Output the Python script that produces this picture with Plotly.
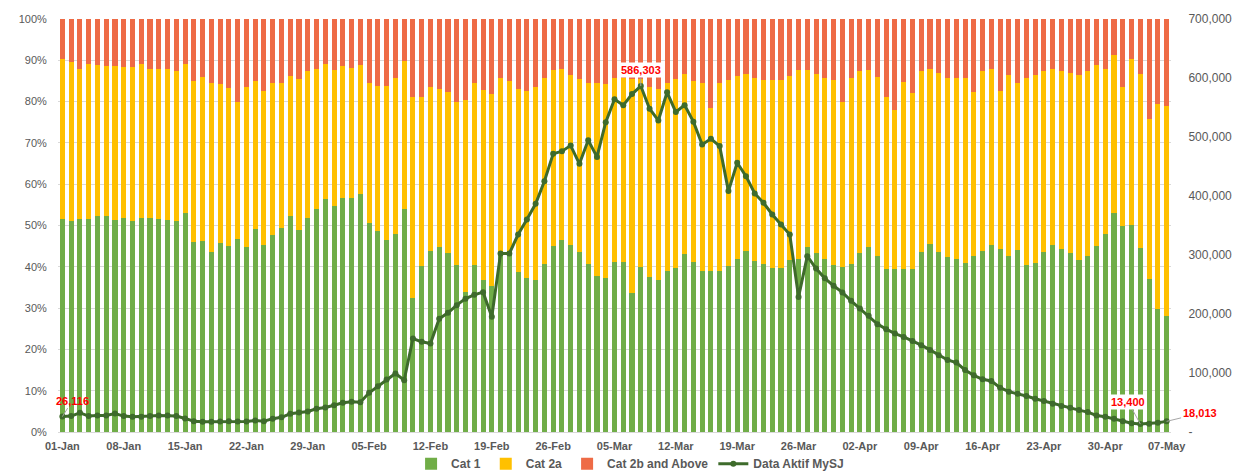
import pandas as pd
import plotly.graph_objects as go

# ---- categories (one per day, 01-Jan .. 07-May) ----
dates = pd.date_range("2022-01-01", "2022-05-07", freq="D")
days = [d.strftime("%d-%b") for d in dates]
tick_days = days[::7]

# ---- Cat 1 share (%), cumulative Cat 1 + Cat 2a share (%) ----
cat1_pct = [
    51.6, 51.0, 51.5, 51.6, 52.4, 52.2, 51.4, 51.8, 51.0, 51.8,
    51.8, 51.6, 51.4, 51.0, 53.1, 45.9, 46.3, 43.7, 45.8, 45.0,
    46.7, 44.8, 49.2, 45.4, 47.8, 49.3, 52.3, 48.9, 51.9, 54.0,
    56.3, 54.7, 56.7, 56.7, 57.6, 50.7, 48.6, 46.5, 48.0, 54.0,
    32.4, 40.2,
    43.9, 44.7, 43.3, 40.4, 34.0, 40.4, 36.8, 35.4, 43.3, 43.3,
    38.7, 37.2, 36.7, 40.7, 45.1, 46.5, 45.4, 43.6, 40.6, 37.8,
    37.4, 41.2, 41.2, 33.6, 39.9, 37.6, 36.7, 39.0, 39.6, 43.0,
    41.1, 38.9, 39.0, 39.0, 40.3, 41.9, 43.9, 41.5, 40.6, 39.8,
    39.6, 41.6, 41.8, 44.7,
    43.3, 41.9, 40.4, 40.0, 40.7, 43.3, 44.7, 42.7, 39.4, 39.4,
    39.5, 39.4, 43.6, 45.6, 43.6, 42.4, 41.9, 41.0, 42.6, 43.8,
    45.3, 44.2, 42.5, 44.1, 40.4, 40.9, 43.7, 45.4, 44.3, 43.3,
    41.6, 42.7, 45.0, 47.9, 53.1, 50.0, 50.1, 44.5, 37.0, 29.8,
    28.1,
]
cat1_2a_pct = [
    90.2, 89.6, 88.0, 89.0, 88.8, 88.6, 88.6, 88.5, 88.4, 89.0,
    88.0, 87.9, 88.0, 87.4, 89.0, 85.1, 86.0, 84.6, 84.2, 83.4,
    79.9, 83.6, 84.9, 82.5, 84.4, 84.6, 86.1, 85.4, 87.5, 88.0,
    89.0, 87.7, 88.6, 88.1, 88.9, 84.6, 83.8, 83.7, 85.7, 89.8,
    81.2, 81.2,
    83.5, 83.0, 82.3, 79.9, 80.3, 84.6, 82.8, 81.8, 85.8, 85.0,
    83.1, 82.6, 83.5, 85.6, 87.6, 88.0, 86.5, 85.4, 84.4, 84.4,
    84.2, 85.6, 85.6, 85.5, 85.5, 83.5, 83.0, 84.4, 85.4, 86.6,
    85.0, 84.6, 78.5, 84.4, 85.2, 86.2, 86.8, 85.6, 85.2, 85.2,
    85.2, 86.2, 87.6, 87.6,
    86.6, 85.8, 85.2, 79.8, 85.8, 87.3, 87.7, 86.0, 81.2, 78.0,
    84.8, 82.2, 87.3, 87.8, 86.9, 85.8, 85.8, 85.6, 82.3, 87.3,
    88.0, 82.6, 86.5, 84.6, 85.6, 86.4, 87.3, 88.0, 87.3, 86.9,
    86.5, 87.3, 88.8, 88.0, 91.4, 83.6, 90.4, 86.7, 75.7, 79.5,
    79.0,
]

# ---- active cases (secondary axis) ----
aktif = [
    26116, 27000, 32500, 27000, 28000, 28000, 31300, 27000, 26000, 26000,
    27000, 28000, 28000, 27000, 23000, 18300, 17500, 17500, 17800, 18300,
    17800, 17800, 19500, 18300, 22600, 24900, 30800, 33000, 34700, 39300,
    41500, 45400, 49400, 51100, 50500, 66400, 77700, 89000, 99200, 87800,
    158500, 152900, 150000, 192000, 202000, 215000, 226000, 232500, 237000, 195300,
    302500, 302500, 334700, 360100, 386700, 425000, 471400, 475900, 485500, 454500,
    494500, 466300, 525000, 564000, 553700, 572800, 586303, 548000, 528000, 575800,
    542300, 554000, 526000, 487400, 497000, 484600, 408300, 456400, 433600, 404300,
    388500, 368700, 351700, 334700, 229000, 298000, 277000, 260400, 247900, 236600,
    222400, 209400, 196900, 182800, 174300, 166900, 161200, 154400, 147100, 139100,
    130000, 122100, 117600, 105100, 96000, 89300, 86400, 75100, 68300, 64900,
    60900, 56400, 52400, 47900, 43900, 41100, 37100, 33700, 28100, 25800,
    22400, 18400, 15000, 13400, 14000, 15800, 18013,
]

right_ticks = [0, 100000, 200000, 300000, 400000, 500000, 600000, 700000]
right_text = ["-", "100,000", "200,000", "300,000", "400,000", "500,000", "600,000", "700,000"]
left_ticks = [0, 10, 20, 30, 40, 50, 60, 70, 80, 90, 100]
left_text = [f"{v}%" for v in left_ticks]

cat2a_pct = [b - a for a, b in zip(cat1_pct, cat1_2a_pct)]
cat2b_pct = [100 - b for b in cat1_2a_pct]

GREEN = "#70AD47"
YELLOW = "#FFC000"
RED = "#EE6B46"
LINE = "#3E6B2B"
GRAY = "#595959"
GRID = "#D9D9D9"

fig = go.Figure()
fig.add_trace(go.Bar(x=days, y=cat1_pct, name="Cat 1", marker=dict(color=GREEN, line=dict(width=0))))
fig.add_trace(go.Bar(x=days, y=cat2a_pct, name="Cat 2a", marker=dict(color=YELLOW, line=dict(width=0))))
fig.add_trace(go.Bar(x=days, y=cat2b_pct, name="Cat 2b and Above", marker=dict(color=RED, line=dict(width=0))))
fig.add_trace(go.Scatter(
    x=days, y=aktif, name="Data Aktif MySJ", yaxis="y2", mode="lines+markers",
    line=dict(color=LINE, width=3), marker=dict(color=LINE, size=6),
))

lab_font = dict(family="Liberation Sans", size=11, color="#FF0000", weight="bold")
anns = [
    dict(i=0, text="26,116", ax=10, ay=-16, bg="rgba(0,0,0,0)"),
    dict(i=66, text="586,303", ax=0, ay=-16, bg="white"),
    dict(i=123, text="13,400", ax=-12, ay=-22, bg="white"),
    dict(i=126, text="18,013", ax=33, ay=-8, bg="rgba(0,0,0,0)"),
]
for a in anns:
    fig.add_annotation(
        x=days[a["i"]], y=aktif[a["i"]], yref="y2", xref="x", text=a["text"],
        showarrow=True, arrowhead=0, arrowwidth=1, arrowcolor="#A6A6A6",
        ax=a["ax"], ay=a["ay"], font=lab_font, bgcolor=a["bg"], borderpad=1,
    )

# chart-area frame (right edge)
fig.add_shape(type="line", xref="paper", yref="paper", x0=1.0654, x1=1.0654, y0=1.0, y1=-0.12,
              line=dict(color="#D0D0D0", width=1))

# The page places the figure 8 px from the window's top-left corner,
# so the figure is sized/margined to land where the reference chart lies.
fig.update_layout(
    width=1237, height=463,
    margin=dict(l=50, r=74, t=11, b=39, autoexpand=False),
    paper_bgcolor="white", plot_bgcolor="white",
    barmode="stack", bargap=0.42,
    font=dict(family="Liberation Sans", color=GRAY),
    showlegend=True,
    legend=dict(
        orientation="h", x=0.514, xanchor="center", y=-0.077, yanchor="middle",
        font=dict(size=12, color=GRAY, weight="bold"), traceorder="normal",
        itemwidth=30, bgcolor="rgba(0,0,0,0)",
    ),
    xaxis=dict(
        type="category", categoryorder="array", categoryarray=days,
        range=[-0.5, len(days) - 0.5],
        tickmode="array", tickvals=tick_days, ticktext=tick_days,
        tickfont=dict(size=11, color=GRAY, weight="bold"),
        showgrid=False, showline=True, linecolor=GRID, linewidth=1,
        ticks="outside", ticklen=4, tickcolor="rgba(0,0,0,0)",
    ),
    yaxis=dict(
        range=[0, 100], tickmode="array", tickvals=left_ticks, ticktext=left_text,
        tickfont=dict(size=11, color=GRAY),
        showgrid=True, gridcolor=GRID, gridwidth=1, zeroline=False,
        ticks="outside", ticklen=8, tickcolor="rgba(0,0,0,0)",
    ),
    yaxis2=dict(
        overlaying="y", side="right", range=[0, 700000],
        tickmode="array", tickvals=right_ticks, ticktext=right_text,
        tickfont=dict(size=12, color=GRAY), showgrid=False, zeroline=False,
        ticks="outside", ticklen=14, tickcolor="rgba(0,0,0,0)",
    ),
)

fig.write_html("out.html")
